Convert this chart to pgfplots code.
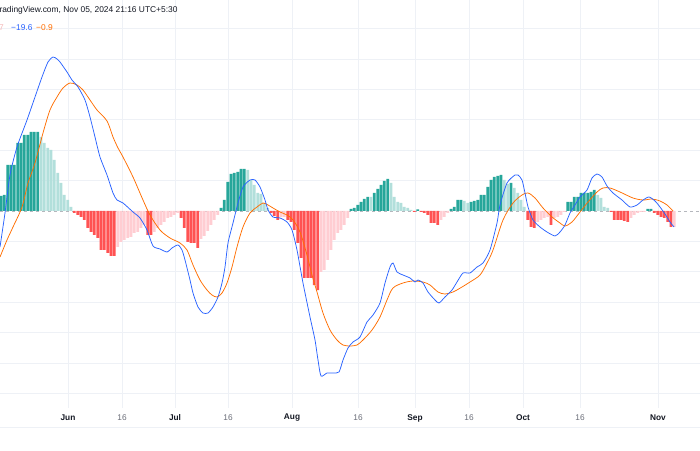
\documentclass[border=0pt]{standalone}
\usepackage{pgfplots}
\pgfplotsset{compat=1.18}
\usepackage{fontspec}
\setmainfont{Liberation Sans}
\definecolor{tvteal}{HTML}{26A69A}
\definecolor{tvtealL}{HTML}{B2DFDB}
\definecolor{tvred}{HTML}{FF5252}
\definecolor{tvredL}{HTML}{FFCDD2}
\definecolor{tvblue}{HTML}{2962FF}
\definecolor{tvorange}{HTML}{FF6D00}
\definecolor{gridc}{HTML}{EEF1F6}
\definecolor{txt}{HTML}{131722}
\definecolor{txtg}{HTML}{6A6D78}
\definecolor{zeroc}{HTML}{B5B7BD}
\definecolor{histtxt}{HTML}{F4B8B8}
\begin{document}
\begin{tikzpicture}
\begin{axis}[name=ax,width=700pt,height=450pt,scale only axis,
  xmin=0,xmax=700,ymin=-239,ymax=211,axis lines=none,clip=true,
  bar shift=0pt]
% gridlines
\pgfplotsinvokeforeach{182.4,152,121.6,91.2,60.8,30.4,-30.4,-60.8,-91.2,-121.6,-152,-182.4}{
  \draw[gridc,line width=0.8pt] (axis cs:0,#1) -- (axis cs:700,#1);}
\pgfplotsinvokeforeach{68,122,175,228,292,358,415,469,523,580,658}{
  \draw[gridc,line width=0.8pt] (axis cs:#1,211) -- (axis cs:#1,-197);}
\draw[gridc,line width=0.8pt] (axis cs:0,-216) -- (axis cs:700,-216);
\draw[zeroc,line width=0.7pt,dash pattern=on 3pt off 3pt] (axis cs:0,0) -- (axis cs:700,0);
% histogram: rising positive
\addplot[ybar,bar width=2.8,fill=tvteal,draw=none] coordinates {
(1,15) (4.33,16) (7.67,46) (11,46) (14.33,46) (17.67,68) (21,68) (24.33,76) (27.67,76) (31,79) (34.33,79) (37.67,79)
(221,3) (224.33,11) (227.67,29) (231,37) (234.33,38) (237.67,39) (241,42) (244.33,42)
(351,2) (354.33,3) (357.67,6) (361,9) (364.33,12) (367.67,14) (374.33,18) (377.67,22) (381,26) (384.33,30) (387.67,32)
(417.67,1.5) (451,2) (454.33,4) (457.67,11) (461,11) (471,9) (474.33,10) (477.67,11) (481,16) (484.33,16) (487.67,24) (491,31) (494.33,34) (497.67,35) (501,36) (511,28)
(567.67,9) (571,9) (574.33,14) (577.67,14) (581,18) (584.33,18) (587.67,18) (591,19) (594.33,21)
(647.67,2) (651,2)
};
% histogram: falling positive
\addplot[ybar,bar width=2.8,fill=tvtealL,draw=none] coordinates {
(41,74) (44.33,68) (47.67,63) (51,61) (54.33,51) (57.67,38) (61,28) (64.33,16) (67.67,11) (71,4)
(247.67,41) (251,31) (254.33,26) (257.67,18) (261,17) (264.33,8) (267.67,3)
(371,14) (391,28) (394.33,14) (397.67,9) (401,8) (404.33,4) (407.67,3) (411,1)
(464.33,10) (467.67,8) (504.33,31) (507.67,27) (514.33,23) (517.67,18) (521,11) (524.33,4)
(597.67,16) (601,13) (604.33,4) (607.67,3)
};
% histogram: falling negative
\addplot[ybar,bar width=2.8,fill=tvred,draw=none] coordinates {
(74.33,-2) (77.67,-4) (81,-6) (84.33,-9) (87.67,-17) (91,-21) (94.33,-24) (97.67,-27) (101,-39) (104.33,-39) (107.67,-42) (111,-45) (114.33,-45)
(147.67,-24) (151,-24) (181,-7) (184.33,-17) (187.67,-31) (191,-32) (194.33,-32) (197.67,-37)
(271,-2) (274.33,-5) (277.67,-9) (287.67,-9) (291,-11) (294.33,-19) (297.67,-32) (301,-47) (304.33,-67) (307.67,-67) (311,-67) (314.33,-74) (317.67,-79)
(414.33,-1) (421,-1) (424.33,-2) (427.67,-4) (431,-12) (434.33,-12) (437.67,-14)
(527.67,-9) (531,-16) (534.33,-17) (551,-14)
(611,-1) (614.33,-9) (617.67,-9) (621,-9) (624.33,-10) (627.67,-11)
(654.33,-2) (657.67,-4) (661,-6) (664.33,-7) (667.67,-11) (671,-16)
};
% histogram: rising negative
\addplot[ybar,bar width=2.8,fill=tvredL,draw=none] coordinates {
(117.67,-36) (121,-31) (124.33,-29) (127.67,-27) (131,-26) (134.33,-22) (137.67,-21) (141,-17) (144.33,-14)
(154.33,-21) (157.67,-17) (161,-14) (164.33,-11) (167.67,-7) (171,-6) (174.33,-4) (177.67,-2)
(201,-28) (204.33,-25) (207.67,-20) (211,-14) (214.33,-9) (217.67,-4)
(281,-6) (284.33,-6)
(321,-61) (324.33,-59) (327.67,-49) (331,-39) (334.33,-29) (337.67,-22) (341,-19) (344.33,-14) (347.67,-7)
(441,-9) (444.33,-6) (447.67,-2)
(537.67,-11) (541,-9) (544.33,-7) (547.67,-6) (554.33,-7) (557.67,-6) (561,-4) (564.33,-1)
(631,-7) (634.33,-4) (637.67,-2) (641,-1) (644.33,-1)
(674.33,-16)
};
% signal line
\addplot[tvorange,line width=0.75pt,smooth,tension=0.5] coordinates {
(0,-46) (7,-29) (13,-16) (22,4) (28,28) (35,48) (43,78) (50,101) (57,114) (63,123) (70,128) (77,126) (83,121) (90,111) (97,101) (107,90) (113,74) (118,63) (123,54) (133,34) (143,11) (150,-4) (160,-19) (170,-27) (180,-32) (187,-39) (193,-54) (200,-69) (207,-79) (212,-84) (217,-86) (222,-82) (227,-72) (232,-56) (237,-36) (243,-16) (250,-2) (257,4) (263,8) (268,6) (273,3) (280,-1) (287,-4) (293,-9) (300,-21) (307,-44) (312,-64) (317,-81) (323,-102) (330,-119) (337,-129) (343,-134) (350,-135) (357,-134) (363,-129) (372,-119) (380,-106) (387,-89) (393,-77) (403,-72) (413,-70) (423,-71) (430,-74) (438,-81) (445,-83) (453,-81) (462,-76) (470,-71) (480,-64) (487,-52) (493,-39) (503,-9) (513,8) (522,16) (528,18) (535,13) (543,3) (552,-6) (560,-12) (565,-15) (572,-11) (580,-1) (588,9) (597,19) (603,23) (610,23) (620,19) (633,13) (643,11) (652,12) (660,10) (667,6) (673,0)
};
% MACD line
\addplot[tvblue,line width=0.75pt,smooth,tension=0.4] coordinates {
(0,-36) (5,-2) (10,36) (17,64) (27,91) (35,114) (42,134) (48,149) (53,154) (57,152) (60,149) (67,139) (72,131) (78,124) (85,111) (90,94) (95,74) (100,54) (107,36) (113,18) (117,11) (123,8) (133,-1) (140,-7) (147,-19) (153,-35) (160,-38) (167,-41) (172,-37) (178,-34) (182,-39) (185,-49) (190,-69) (193,-82) (198,-96) (203,-102) (208,-102) (213,-96) (218,-86) (222,-72) (225,-56) (228,-32) (233,-12) (238,8) (243,24) (250,31) (255,31) (260,24) (265,11) (268,1) (273,-6) (280,-7) (287,-11) (292,-19) (297,-39) (303,-72) (310,-106) (315,-129) (318,-149) (321,-165) (327,-162) (333,-162) (339,-161) (343,-149) (348,-137) (353,-131) (360,-126) (367,-111) (373,-104) (380,-92) (385,-72) (390,-56) (393,-52) (397,-61) (403,-64) (410,-67) (415,-71) (418,-69) (423,-72) (428,-81) (435,-89) (439,-92) (445,-86) (452,-79) (457,-71) (463,-62) (470,-62) (477,-56) (483,-52) (490,-39) (497,-12) (500,6) (507,28) (515,36) (518,36) (522,31) (525,18) (528,4) (533,-9) (540,-16) (547,-21) (555,-25) (560,-21) (565,-14) (570,-2) (575,6) (580,14) (587,21) (592,33) (597,37) (602,34) (607,25) (613,18) (622,11) (630,4) (637,6) (643,11) (649,14) (655,10) (660,4) (665,-3) (670,-11) (674,-16)
};
% header
\node[anchor=west,inner sep=0pt,text=txt,font=\fontsize{8.4}{10}\selectfont] at (axis cs:-5.5,201) {TradingView.com, Nov 05, 2024 21:16 UTC+5:30};
\node[anchor=west,inner sep=0pt,text=histtxt,font=\fontsize{8.4}{10}\selectfont] at (axis cs:-17.7,183) {−18.7};
\node[anchor=west,inner sep=0pt,text=tvblue,font=\fontsize{8.4}{10}\selectfont] at (axis cs:11,183) {−19.6};
\node[anchor=west,inner sep=0pt,text=tvorange,font=\fontsize{8.4}{10}\selectfont] at (axis cs:36,183) {−0.9};
% time axis labels
\node[text=txt,font=\fontsize{8.3}{10}\selectfont\bfseries] at (axis cs:68,-207) {Jun};
\node[text=txt,font=\fontsize{8.3}{10}\selectfont\bfseries] at (axis cs:175,-207) {Jul};
\node[text=txt,font=\fontsize{8.3}{10}\selectfont\bfseries] at (axis cs:292,-207) {Aug};
\node[text=txt,font=\fontsize{8.3}{10}\selectfont\bfseries] at (axis cs:415,-207) {Sep};
\node[text=txt,font=\fontsize{8.3}{10}\selectfont\bfseries] at (axis cs:523,-207) {Oct};
\node[text=txt,font=\fontsize{8.3}{10}\selectfont\bfseries] at (axis cs:658,-207) {Nov};
\node[text=txtg,font=\fontsize{8.3}{10}\selectfont] at (axis cs:122,-207) {16};
\node[text=txtg,font=\fontsize{8.3}{10}\selectfont] at (axis cs:228,-207) {16};
\node[text=txtg,font=\fontsize{8.3}{10}\selectfont] at (axis cs:358,-207) {16};
\node[text=txtg,font=\fontsize{8.3}{10}\selectfont] at (axis cs:469,-207) {16};
\node[text=txtg,font=\fontsize{8.3}{10}\selectfont] at (axis cs:580,-207) {16};
\end{axis}
\pgfresetboundingbox
\useasboundingbox (ax.south west) rectangle (ax.north east);
\end{tikzpicture}
\end{document}
